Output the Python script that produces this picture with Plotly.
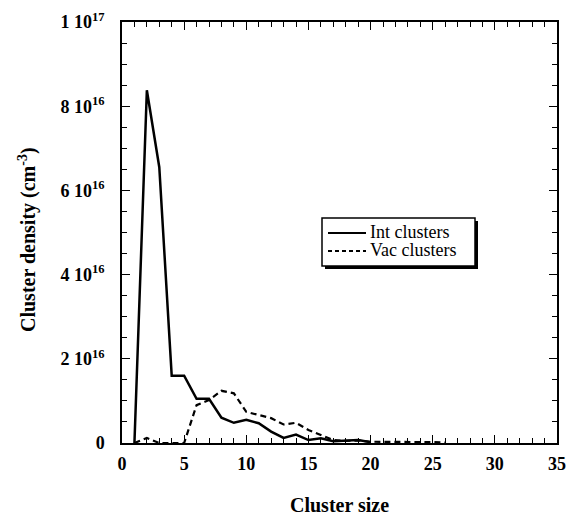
import plotly.graph_objects as go

# Data
size_int = [1, 2, 3, 4, 5, 6, 7, 8, 9, 10, 11, 12, 13, 14, 15, 16, 17, 18, 19, 20]
dens_int = [0, 8.38e16, 6.55e16, 1.6e16, 1.6e16, 1.05e16, 1.05e16, 6.0e15, 4.8e15, 5.5e15,
            4.7e15, 2.7e15, 1.2e15, 2.0e15, 0.7e15, 1.1e15, 0.4e15, 0.5e15, 0.7e15, 0.2e15]

size_vac = [1, 2, 3, 4, 5, 6, 7, 8, 9, 10, 11, 12, 13, 14, 15, 16, 17, 18, 19, 20,
            21, 22, 23, 24, 25, 26]
dens_vac = [0, 1.2e15, 0, 0, 0, 9.0e15, 1.02e16, 1.24e16, 1.18e16, 7.4e15, 6.6e15, 5.9e15,
            4.4e15, 4.8e15, 3.1e15, 1.9e15, 0.7e15, 0.5e15, 0.6e15, 0.3e15,
            0.3e15, 0.3e15, 0.2e15, 0.2e15, 0.2e15, 0.1e15]

series_names = ["Int clusters", "Vac clusters"]
y_tickvals = [0, 2e16, 4e16, 6e16, 8e16, 1e17]
y_ticktext = ["0", "2 10<sup>16</sup>", "4 10<sup>16</sup>", "6 10<sup>16</sup>",
              "8 10<sup>16</sup>", "1 10<sup>17</sup>"]
x_tickvals = [0, 5, 10, 15, 20, 25, 30, 35]

serif = "Liberation Serif, Times New Roman, serif"

OFF = 8  # page body margin
W, H = 580 - OFF, 518 - OFF
L, R, T, B = 122 - OFF, 23, 22 - OFF, 75
PW, PH = W - L - R, H - T - B


def px_x(p):
    return (p - OFF - L) / PW


def px_y(p):
    return (H - B - (p - OFF)) / PH


fig = go.Figure()
fig.add_trace(go.Scatter(x=size_int, y=dens_int, mode="lines", name=series_names[0],
                         line=dict(color="black", width=2.5), showlegend=False))
fig.add_trace(go.Scatter(x=size_vac, y=dens_vac, mode="lines", name=series_names[1],
                         line=dict(color="black", width=2.2, dash="6px,4px"), showlegend=False))

# hand-drawn legend box with drop shadow
bx0, bx1, by0, by1 = 322, 475, 218, 266
fig.add_shape(type="rect", xref="paper", yref="paper",
              x0=px_x(bx0 + 3), x1=px_x(bx1 + 3), y0=px_y(by1 + 3), y1=px_y(by0 + 3),
              fillcolor="black", line=dict(width=0), layer="above")
fig.add_shape(type="rect", xref="paper", yref="paper",
              x0=px_x(bx0), x1=px_x(bx1), y0=px_y(by1), y1=px_y(by0),
              fillcolor="white", line=dict(color="black", width=1.5), layer="above")
row_y = [233, 251]
dashes = ["solid", "4px,3px"]
for i, name in enumerate(series_names):
    fig.add_shape(type="line", xref="paper", yref="paper",
                  x0=px_x(328), x1=px_x(366), y0=px_y(row_y[i]), y1=px_y(row_y[i]),
                  line=dict(color="black", width=2.2, dash=dashes[i]), layer="above")
    fig.add_annotation(text=name, xref="paper", yref="paper", x=px_x(368), y=px_y(row_y[i] - 1),
                       xanchor="left", yanchor="middle", showarrow=False,
                       font=dict(family=serif, size=18, color="black"))

# axis titles
fig.add_annotation(text="<b>Cluster size</b>", xref="paper", yref="paper",
                   x=0.5, y=px_y(505), xanchor="center", yanchor="middle", showarrow=False,
                   font=dict(family=serif, size=20, color="black"))
fig.add_annotation(text="<b>Cluster density (cm<sup>-3</sup>)</b>", xref="paper", yref="paper",
                   x=px_x(28), y=px_y(240), xanchor="center", yanchor="middle", showarrow=False,
                   textangle=-90, font=dict(family=serif, size=20, color="black"))

fig.update_layout(
    width=W, height=H,
    margin=dict(l=L, r=R, t=T, b=B, autoexpand=False),
    paper_bgcolor="white", plot_bgcolor="white",
    font=dict(family=serif, color="black", size=16),
    showlegend=False,
    xaxis=dict(range=[0, 35], tickvals=x_tickvals, showgrid=False, zeroline=False,
               automargin=False,
               showline=True, linecolor="black", linewidth=1.5, mirror="allticks",
               ticks="inside", ticklen=8, tickwidth=1.2, tickcolor="black",
               ticklabelstandoff=4,
               tickfont=dict(family=serif, size=18, color="black", weight="bold"),
               minor=dict(dtick=1, ticks="inside", ticklen=5, tickwidth=1, tickcolor="black",
                          showgrid=False)),
    yaxis=dict(range=[0, 1e17], tickvals=y_tickvals, ticktext=y_ticktext, showgrid=False,
               automargin=False,
               zeroline=False, showline=True, linecolor="black", linewidth=1.5,
               mirror="allticks", ticks="inside", ticklen=8, tickwidth=1.2, tickcolor="black",
               ticklabelstandoff=12,
               tickfont=dict(family=serif, size=18, color="black", weight="bold"),
               minor=dict(dtick=5e15, tick0=0, ticks="inside", ticklen=5, tickwidth=1,
                          tickcolor="black", showgrid=False)),
)

fig.write_html("out.html")
